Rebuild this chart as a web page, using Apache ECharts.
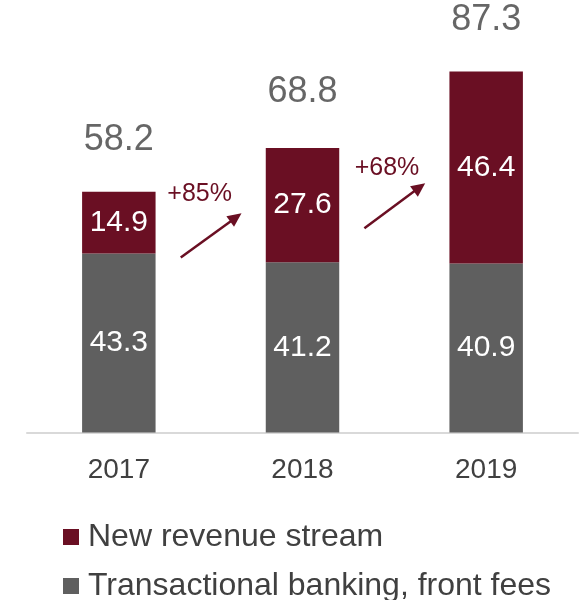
<!DOCTYPE html>
<html>
<head>
<meta charset="utf-8">
<script src="https://cdn.jsdelivr.net/npm/echarts@6/dist/echarts.min.js"></script>
<style>
  html, body { margin: 0; padding: 0; background: #ffffff; }
  #chart { width: 582px; height: 600px; }
</style>
</head>
<body>
<div id="chart"></div>
<script>
// Revenue by year, split into two streams (stacked)
const years = ['2017', '2018', '2019'];
const transactional = [43.3, 41.2, 40.9];
const newRevenue = [14.9, 27.6, 46.4];
const totals = [58.2, 68.8, 87.3];
// Growth of the new revenue stream between consecutive years
const growthLabels = ['+85%', '+68%'];

const MAROON = '#6a0f23';
const GREY = '#5f5f5f';
const TEXT = '#404040';
const FONT = '"Liberation Sans", Arial, sans-serif';

const chart = echarts.init(document.getElementById('chart'), null, { renderer: 'canvas' });

const totalOffsets = [-52, -56, -51];

chart.setOption({
  animation: false,
  textStyle: { fontFamily: FONT },
  grid: { left: 27, right: 4, top: 19, bottom: 167.5 },
  legend: {
    orient: 'vertical',
    left: 63,
    top: 521,
    height: 120,
    padding: 0,
    itemWidth: 16,
    itemHeight: 16,
    itemGap: 17,
    icon: 'rect',
    textStyle: { fontSize: 32, color: TEXT, fontFamily: FONT, padding: [0, 0, 0, 4] },
    data: ['New revenue stream', 'Transactional banking, front fees']
  },
  xAxis: {
    type: 'category',
    data: years,
    axisLine: { lineStyle: { color: '#d9d9d9', width: 2 } },
    axisTick: { show: false },
    axisLabel: { fontSize: 28, color: TEXT, margin: 24, fontFamily: FONT }
  },
  yAxis: {
    type: 'value',
    min: 0,
    max: 100,
    show: false,
    splitLine: { show: false }
  },
  series: [
    {
      name: 'Transactional banking, front fees',
      type: 'bar',
      stack: 'rev',
      barWidth: '40%',
      itemStyle: { color: GREY },
      label: { show: true, position: 'inside', color: '#ffffff', fontSize: 30, fontFamily: FONT },
      data: transactional
    },
    {
      name: 'New revenue stream',
      type: 'bar',
      stack: 'rev',
      barWidth: '40%',
      itemStyle: { color: MAROON },
      label: { show: true, position: 'inside', color: '#ffffff', fontSize: 30, fontFamily: FONT },
      data: newRevenue
    },
    {
      name: 'Total',
      type: 'scatter',
      symbolSize: 0,
      silent: true,
      label: {
        show: true,
        position: 'inside',
        color: TEXT,
        fontSize: 36,
        fontFamily: FONT
      },
      data: totals.map((v, i) => ({ value: v, label: { offset: [0, totalOffsets[i]] } }))
    }
  ]
});

// Growth arrows between bars, placed relative to the category positions
function drawGrowthArrows() {
  const graphics = [];
  for (let i = 0; i < growthLabels.length; i++) {
    const c0 = chart.convertToPixel({ xAxisIndex: 0 }, years[i]);
    const c1 = chart.convertToPixel({ xAxisIndex: 0 }, years[i + 1]);
    const step = c1 - c0;
    const yStart = chart.convertToPixel({ yAxisIndex: 0 }, i === 0 ? 42.3 : 49.4);
    const yEnd = chart.convertToPixel({ yAxisIndex: 0 }, i === 0 ? 53.0 : 60.3);
    const x1 = c0 + step * 0.337;
    const x2 = c0 + step * 0.668;
    const dx = x2 - x1, dy = yEnd - yStart;
    const len = Math.sqrt(dx * dx + dy * dy);
    const ux = dx / len, uy = dy / len;
    const head = 14, half = 6.5;
    const bx = x2 - ux * head, by = yEnd - uy * head;
    graphics.push({
      type: 'line',
      shape: { x1: x1, y1: yStart, x2: bx + ux * 2, y2: by + uy * 2 },
      style: { stroke: MAROON, lineWidth: 2.5 }
    });
    graphics.push({
      type: 'polygon',
      shape: { points: [[x2, yEnd], [bx - uy * half, by + ux * half], [bx + uy * half, by - ux * half]] },
      style: { fill: MAROON }
    });
    graphics.push({
      type: 'text',
      x: c0 + step * (i === 0 ? 0.44 : 0.46),
      y: chart.convertToPixel({ yAxisIndex: 0 }, i === 0 ? 57.6 : 63.9),
      style: {
        text: growthLabels[i],
        fill: MAROON,
        font: '25px ' + FONT,
        textAlign: 'center',
        textVerticalAlign: 'middle'
      }
    });
  }
  chart.setOption({ graphic: graphics });
}
drawGrowthArrows();
</script>
</body>
</html>
